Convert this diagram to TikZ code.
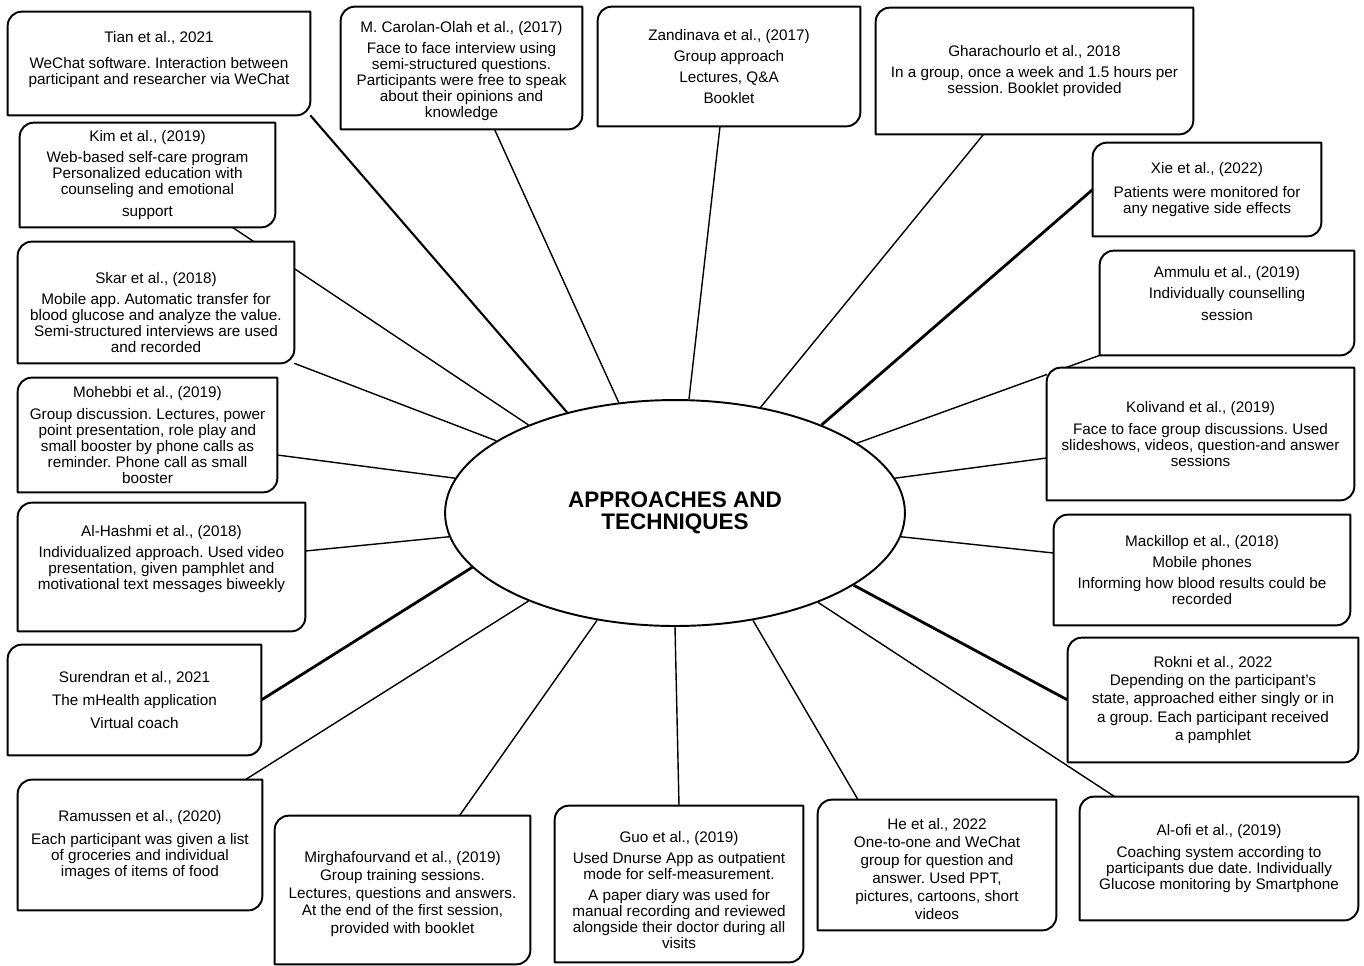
\documentclass[tikz,border=0pt]{standalone}
\usepackage{fontspec}
\setmainfont{Liberation Sans}
\usetikzlibrary{shapes.geometric, backgrounds}
\frenchspacing

\tikzset{
  card/.style={fill=white, inner sep=0pt, align=center, font=\fontsize{8.7}{9.1}\selectfont},
  cardline/.style={line width=1.1pt, line join=round},
  link/.style={line width=0.8pt},
  heavy link/.style={line width=1.6pt},
}

% frame with rounded top-left and bottom-right corners
\newcommand{\cardframe}[1]{%
  \draw[cardline] (#1.south west) -- ([yshift=-0.28cm]#1.north west)
    arc[start angle=180, end angle=90, radius=0.28cm] -- (#1.north east)
    -- ([yshift=0.28cm]#1.south east)
    arc[start angle=0, end angle=-90, radius=0.28cm] -- cycle;}

\begin{document}
\begin{tikzpicture}[x=0.02cm, y=-0.02cm]
  \useasboundingbox (0,0) rectangle (1364,965);

  \node[draw, ellipse, line width=1.1pt, fill=white, minimum width=9.2cm, minimum height=4.52cm,
        inner sep=0pt, align=center, font=\bfseries\fontsize{12.8}{12.5}\selectfont]
        (core) at (675,513) {APPROACHES AND\\TECHNIQUES};

  % left column
  \node[card, minimum width=6.04cm, minimum height=2.06cm] (tian) at (159,63.5)
    {Tian et al., 2021\\[5.5pt]WeChat software. Interaction between\\participant and researcher via WeChat\\[-2.8pt]\mbox{}};
  \node[card, minimum width=5.10cm, minimum height=2.08cm] (kim) at (147.5,175)
    {Kim et al., (2019)\\[3pt]Web-based self-care program\\Personalized education with\\counseling and emotional\\[3.5pt]support};
  \node[card, minimum width=5.52cm, minimum height=2.42cm] (skar) at (156,302.5)
    {\mbox{}\\[9pt]Skar et al., (2018)\\[3pt]Mobile app. Automatic transfer for\\blood glucose and analyze the value.\\Semi-structured interviews are used\\and recorded};
  \node[card, minimum width=5.18cm, minimum height=2.28cm] (mohebbi) at (147.5,435)
    {Mohebbi et al., (2019)\\[3pt]Group discussion. Lectures, power\\point presentation, role play and\\small booster by phone calls as\\reminder. Phone call as small\\booster};
  \node[card, minimum width=5.74cm, minimum height=2.56cm] (alhashmi) at (161.5,567)
    {Al-Hashmi et al., (2018)\\[3pt]Individualized approach. Used video\\presentation, given pamphlet and\\motivational text messages biweekly\\[2pt]\mbox{}};
  \node[card, minimum width=5.06cm, minimum height=2.20cm] (surendran) at (134.5,700)
    {Surendran et al., 2021\\[4pt]The mHealth application\\[4pt]Virtual coach};

  % bottom row
  \node[card, minimum width=4.88cm, minimum height=2.60cm] (ramussen) at (140,845)
    {Ramussen et al., (2020)\\[3.5pt]Each participant was given a list\\of groceries and individual\\images of items of food};
  \node[card, minimum width=5.10cm, minimum height=2.96cm] (mirgha) at (402.5,890)
    {\mbox{}\\[1.9pt]Mirghafourvand et al., (2019)\\[0.9pt]Group training sessions.\\[0.9pt]Lectures, questions and answers.\\[0.9pt]At the end of the first session,\\[0.9pt]provided with booklet};
  \node[card, minimum width=4.96cm, minimum height=3.12cm] (guo) at (679,884)
    {\mbox{}\\[4.2pt]Guo et al., (2019)\\[3pt]Used Dnurse App as outpatient\\mode for self-measurement.\\[3pt]A paper diary was used for\\manual recording and reviewed\\alongside their doctor during all\\visits};
  \node[card, minimum width=4.76cm, minimum height=2.60cm] (he) at (937,865)
    {\mbox{}\\[1.9pt]He et al., 2022\\[1.2pt]One-to-one and WeChat\\[1.2pt]group for question and\\[1.2pt]answer. Used PPT,\\[1.2pt]pictures, cartoons, short\\[1.2pt]videos};
  \node[card, minimum width=5.56cm, minimum height=2.46cm] (alofi) at (1219,858.5)
    {Al-ofi et al., (2019)\\[3pt]Coaching system according to\\participants due date. Individually\\Glucose monitoring by Smartphone};

  % right column
  \node[card, minimum width=5.80cm, minimum height=2.48cm] (rokni) at (1213,700)
    {Rokni et al., 2022\\[1.2pt]Depending on the participant's\\[1.2pt]state, approached either singly or in\\[1.2pt]a group. Each participant received\\[1.2pt]a pamphlet};
  \node[card, minimum width=5.92cm, minimum height=2.20cm] (mackillop) at (1202,570)
    {Mackillop et al., (2018)\\[3pt]Mobile phones\\[3pt]Informing how blood results could be\\recorded};
  \node[card, minimum width=6.14cm, minimum height=2.64cm] (kolivand) at (1200.5,434)
    {Kolivand et al., (2019)\\[3pt]Face to face group discussions. Used\\slideshows, videos, question-and answer\\sessions};
  \node[card, minimum width=5.08cm, minimum height=2.08cm] (ammulu) at (1227,303)
    {Ammulu et al., (2019)\\[3pt]Individually counselling\\[3pt]session\\[2pt]\mbox{}};
  \node[card, minimum width=4.56cm, minimum height=1.86cm] (xie) at (1207,189.5)
    {Xie et al., (2022)\\[5pt]Patients were monitored for\\any negative side effects};

  % top row
  \node[card, minimum width=6.34cm, minimum height=2.52cm] (ghara) at (1034.5,71)
    {Gharachourlo et al., 2018\\[3pt]In a group, once a week and 1.5 hours per\\session. Booklet provided};
  \node[card, minimum width=5.24cm, minimum height=2.38cm] (zandinava) at (729,66.5)
    {Zandinava et al., (2017)\\[3pt]Group approach\\[3pt]Lectures, Q\&A\\[3pt]Booklet};
  \node[card, minimum width=4.82cm, minimum height=2.44cm] (carolan) at (461.5,68)
    {\mbox{}\\[0.8pt]M. Carolan-Olah et al., (2017)\\[3pt]Face to face interview using\\semi-structured questions.\\Participants were free to speak\\about their opinions and\\knowledge};

  \foreach \n in {tian,kim,skar,mohebbi,alhashmi,surendran,ramussen,mirgha,guo,he,
                  alofi,rokni,mackillop,kolivand,ammulu,xie,ghara,zandinava,carolan}
    \cardframe{\n};

  % spokes, kept behind the cards
  \begin{scope}[on background layer]
    \draw[link, line width=1.2pt] (tian.south east) -- (core.137);
    \draw[link] ([xshift=1.7cm]kim.south) -- (core.149);
    \draw[link] (skar.south east) -- (core.158);
    \draw[link] ([yshift=-0.4cm]mohebbi.east) -- (core.171);
    \draw[link] ([yshift=0.32cm]alhashmi.east) -- (core.186);
    \draw[heavy link] (surendran.east) -- (core.195);
    \draw[link] ([xshift=-0.34cm]ramussen.north east) -- (core.211);
    \draw[link] ([xshift=1.14cm]mirgha.north) -- (core.234);
    \draw[link] (guo.north) -- (core.270);
    \draw[link] ([xshift=-1.58cm]he.north) -- (core.306);
    \draw[link] ([xshift=0.7cm]alofi.north west) -- (core.328);
    \draw[heavy link] (rokni.west) -- (core.338);
    \draw[link] ([yshift=0.34cm]mackillop.west) -- (core.354);
    \draw[link] ([yshift=-0.48cm]kolivand.west) -- (core.9);
    \draw[link] (ammulu.south west) -- (core.21);
    \draw[heavy link] (xie.west) -- (core.31);
    \draw[link] ([xshift=-1.02cm]ghara.south) -- (core.51);
    \draw[link] ([xshift=-0.18cm]zandinava.south) -- (core.83);
    \draw[link] ([xshift=0.66cm]carolan.south) -- (core.117);
  \end{scope}
\end{tikzpicture}
\end{document}
